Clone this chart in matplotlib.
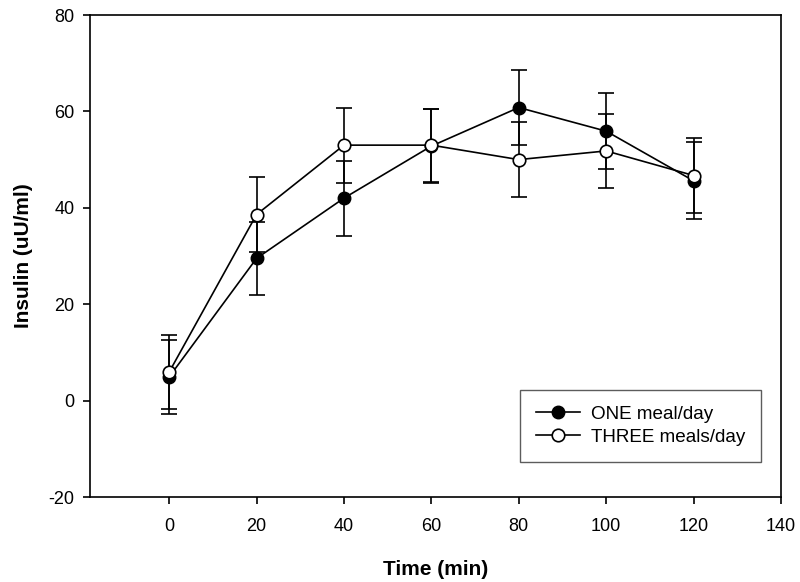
import numpy as np
import matplotlib.pyplot as plt

plt.rcParams['font.family'] = ['Liberation Sans', 'DejaVu Sans']
plt.rcParams['axes.unicode_minus'] = False

time = [0, 20, 40, 60, 80, 100, 120]
one_mean = [4.9, 29.5, 42.0, 52.8, 60.8, 55.9, 45.6]
one_err = [7.7, 7.5, 7.8, 7.7, 7.7, 7.9, 8.0]
three_mean = [5.9, 38.6, 53.0, 53.0, 50.0, 51.8, 46.7]
three_err = [7.7, 7.8, 7.8, 7.6, 7.7, 7.6, 7.7]

fig = plt.figure(figsize=(8, 5.82), dpi=100)
ax = fig.add_axes([90 / 800, 1 - 497 / 582, (781 - 90) / 800, (497 - 15) / 582])

ax.errorbar(time, one_mean, yerr=one_err, color='black', lw=1.2, marker='o',
            ms=9, mfc='black', mec='black', capsize=5.5, capthick=1.2,
            elinewidth=1.2, label='ONE meal/day', zorder=3)
ax.errorbar(time, three_mean, yerr=three_err, color='black', lw=1.2, marker='o',
            ms=9, mfc='white', mec='black', mew=1.2, capsize=5.5, capthick=1.2,
            elinewidth=1.2, label='THREE meals/day', zorder=4)

ax.set_xlim(-18.1, 140)
ax.set_ylim(-20, 80)
ax.set_xticks(np.arange(0, 141, 20))
ax.set_yticks(np.arange(-20, 81, 20))
for s in ax.spines.values():
    s.set_linewidth(1.2)
ax.tick_params(axis='x', direction='out', length=5, width=1.2, labelsize=13, pad=10)
ax.tick_params(axis='y', direction='out', length=5, width=1.2, labelsize=13, pad=6)

ax.set_xlabel('Time (min)', fontsize=15, fontweight='bold', labelpad=18)
ax.set_ylabel('Insulin (uU/ml)', fontsize=15, fontweight='bold', labelpad=11)

handles, labels = ax.get_legend_handles_labels()
handles = [h[0] for h in handles]
leg = ax.legend(handles, labels, loc='lower right', bbox_to_anchor=(0.971, 0.0726),
                borderaxespad=0, fontsize=13.6, frameon=True, fancybox=False,
                edgecolor='#333333', handlelength=2.35, borderpad=0.85,
                handletextpad=0.55, labelspacing=0.3)
leg.get_frame().set_linewidth(1)

fig.savefig('out.png', dpi=100)
